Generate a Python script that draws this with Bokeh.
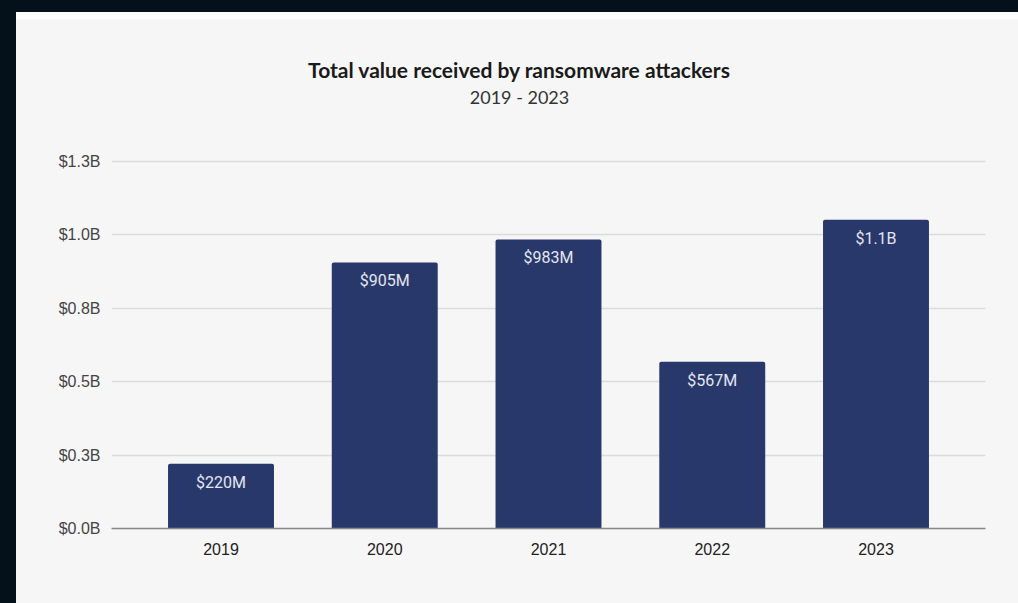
from bokeh.plotting import figure
from bokeh.models import ColumnDataSource, FactorRange, Range1d, FixedTicker, Label, Div
from bokeh.layouts import column
from bokeh.core.properties import value
from bokeh.embed import file_html
from bokeh.resources import INLINE

years = ["2019", "2020", "2021", "2022", "2023"]
values_b = [0.220, 0.905, 0.983, 0.567, 1.05]
bar_labels = ["$220M", "$905M", "$983M", "$567M", "$1.1B"]
y_ticks = [0.0, 0.25, 0.5, 0.75, 1.0, 1.25]
y_tick_labels = ["$0.0B", "$0.3B", "$0.5B", "$0.8B", "$1.0B", "$1.3B"]
title_text = "Total value received by ransomware attackers"
subtitle_text = "2019 - 2023"

DARK = "#04111b"
PANEL = "#f6f6f6"
BAR = "#29386b"

src = ColumnDataSource(dict(year=years, val=values_b, lab=bar_labels))

# frame: canvas x 111..985, y 30..528 ; 294 px per $1B
p = figure(
    width=1002, height=584,
    x_range=FactorRange(factors=years, range_padding=0.0675),
    y_range=Range1d(0, 498 / 294),
    output_backend="svg", toolbar_location=None,
    min_border_left=95, min_border_right=33, min_border_top=11, min_border_bottom=75,
    background_fill_color=None, border_fill_color=None,
    outline_line_color=None,
    margin=(0, 0, 0, 16),
    styles={"background-color": PANEL},
)

p.vbar(x="year", top="val", width=0.647, source=src, fill_color=BAR, line_color=None,
       border_radius=(2, 2, 0, 0))
p.text(x="year", y="val", text="lab", source=src, text_align="center", text_baseline="top",
       y_offset=9, text_color="#e3e6f0", text_font=value("Roboto"), text_font_size="16px")

# axes
p.yaxis.ticker = FixedTicker(ticks=y_ticks)
p.yaxis.major_label_overrides = {t: l for t, l in zip(y_ticks, y_tick_labels)}
p.yaxis.axis_line_color = None
p.yaxis.major_tick_line_color = None
p.yaxis.minor_tick_line_color = None
p.yaxis.major_label_text_font = "Liberation Sans"
p.yaxis.major_label_text_font_size = "16px"
p.yaxis.major_label_text_color = "#444444"
p.yaxis.major_label_standoff = 5

p.xaxis.axis_line_color = "#888888"
p.xaxis.axis_line_width = 1.5
p.xaxis.major_tick_line_color = None
p.xaxis.minor_tick_line_color = None
p.xaxis.major_label_text_font = "Liberation Sans"
p.xaxis.major_label_text_font_size = "16px"
p.xaxis.major_label_text_color = "#222222"
p.xaxis.major_label_standoff = 8

p.xgrid.grid_line_color = None
p.ygrid.grid_line_color = "#dcdcdc"
p.ygrid.grid_line_width = 1.5

# titles (screen units relative to the frame: x from left, y from bottom)
p.add_layout(Label(x=408, y=459, x_units="screen", y_units="screen", text=title_text,
                   text_align="center", text_baseline="middle", text_font="Lato",
                   text_font_style="bold", text_font_size="21px", text_color="#1a1a1a"))
p.add_layout(Label(x=408, y=432, x_units="screen", y_units="screen", text=subtitle_text,
                   text_align="center", text_baseline="middle", text_font="Lato",
                   text_font_size="18px", text_color="#333333"))

strip = Div(width=1002, height=7, margin=(12, 0, 0, 16), styles={"background-color": "#ffffff"})
layout = column(strip, p, spacing=0, width=1018, height=603,
                styles={"background-color": DARK})

open("out.html", "w").write(file_html(layout, INLINE))
